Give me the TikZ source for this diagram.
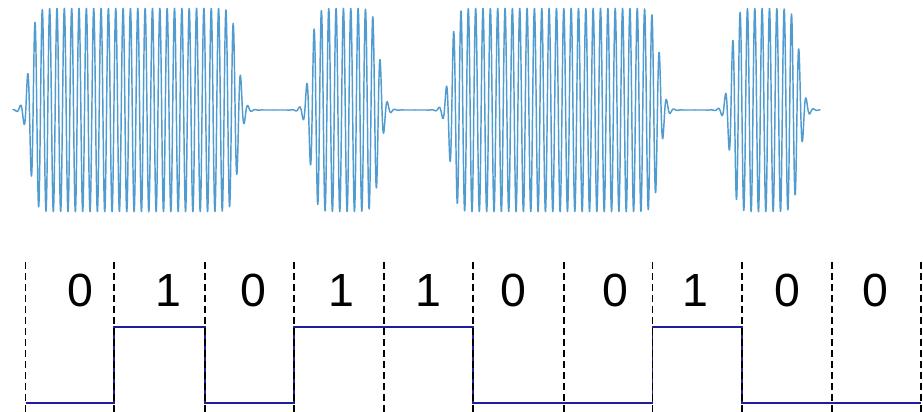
\documentclass[tikz,border=0pt]{standalone}
\usepackage{fontspec}
\setmainfont{Liberation Sans}
\definecolor{wavecol}{RGB}{80,155,208}
\definecolor{sqcol}{RGB}{30,30,150}
\begin{document}
\begin{tikzpicture}[x=1pt,y=-1pt,
  declare function={Lg(\z)=1/(1+exp(-max(min(\z,9),-9)));},
  carrier/.style={draw=wavecol,line width=1.45pt,line join=round,line cap=round},
  divider/.style={draw=black,line width=1.3pt,dash pattern=on 6.5pt off 4.5pt},
  square/.style={draw=sqcol,line width=1.6pt,line join=miter},
  digit/.style={anchor=base,inner sep=0pt,font=\fontsize{46.5}{50}\selectfont}]
\useasboundingbox (0,0) rectangle (923,412);
% modulated carrier
\foreach \a/\b/\xo/\lo/\hi/\n in {29.5/238.5/42.3/13/274/1400, 310/380/321.4/274/415/760, 450/660/460.97/415/695/1500, 730.5/800/740.1/695/820/680}
  \draw[carrier] plot[domain=\lo:\hi,samples=\n,variable=\t]
    (\t,{110-101.7*Lg((\t-\a)/3)*Lg((\b-\t)/3)*cos(((\t-\xo)/7.345)*360)});
% square wave
\draw[square] (25.7,403) -- (114,403) -- (114,327) -- (205,327) -- (205,403)
  -- (294,403) -- (294,327) -- (473,327) -- (473,403) -- (652.5,403)
  -- (652.5,327) -- (742,327) -- (742,403) -- (921,403);
% bit dividers
\foreach \x in {25.7,114,205,294,384,473,564,652.5,742,832,921}
  \draw[divider] (\x,262) -- (\x,412);
% bit labels
\node[digit] (d1) at (80,306.5) {0};
\node[digit] (d2) at (168,306.5) {1};
\node[digit] (d3) at (253,306.5) {0};
\node[digit] (d4) at (341,306.5) {1};
\node[digit] (d5) at (428,306.5) {1};
\node[digit] (d6) at (513,306.5) {0};
\node[digit] (d7) at (615,306.5) {0};
\node[digit] (d8) at (695,306.5) {1};
\node[digit] (d9) at (787,306.5) {0};
\node[digit] (d10) at (875,306.5) {0};
\end{tikzpicture}
\end{document}
